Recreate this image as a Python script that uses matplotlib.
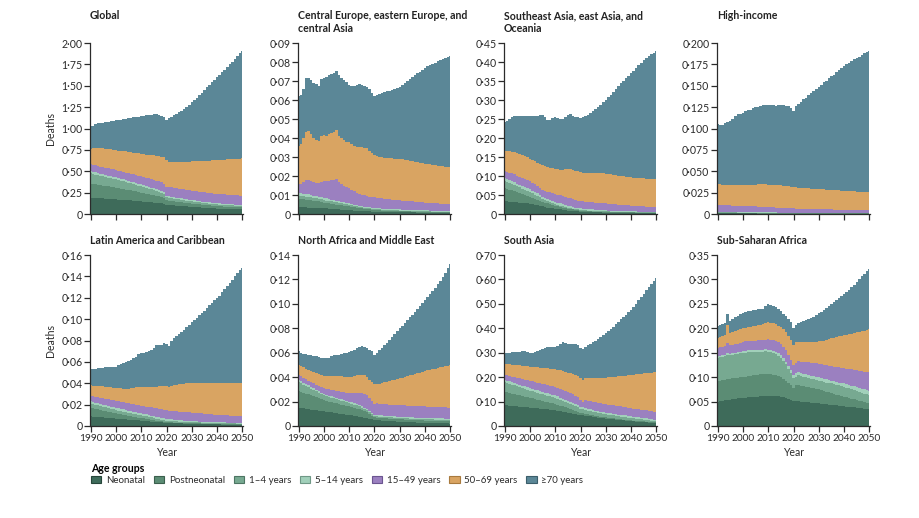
import matplotlib
matplotlib.use("Agg")
import matplotlib.pyplot as plt
from matplotlib.patches import Patch
from matplotlib.ticker import FuncFormatter

plt.rcParams['font.family'] = ['Lato', 'DejaVu Sans']

years = list(range(1990, 2051))
groups = ['Neonatal', 'Postneonatal', '1–4 years', '5–14 years', '15–49 years', '50–69 years', '≥70 years']
colors = ['#3e6b5a', '#5b8c74', '#77a991', '#a1d0ba', '#9b80c0', '#d9a462', '#5b8797']
edges = ['#26463a', '#3b5f4d', '#4d7563', '#6f9886', '#6b5590', '#a87a3e', '#3b5e6b']

# cumulative stack tops (neonatal, +postneonatal, ... , total), one value per year 1990-2050
global_tops = [
    [.190, .189, .188, .186, .184, .182, .180, .178, .176, .173, .170, .168, .166, .164, .162, .160, .158, .155, .152, .150,
     .147, .144, .141, .138, .135, .132, .129, .126, .123, .120, .110, .108, .105, .102, .099, .096, .093, .090, .088, .086,
     .084, .082, .080, .078, .076, .074, .072, .070, .068, .066, .064, .062, .061, .060, .059, .058, .057, .056, .055, .054, .053],
    [.355, .350, .346, .342, .338, .333, .328, .323, .318, .312, .305, .300, .295, .290, .285, .280, .275, .270, .264, .257,
     .250, .244, .238, .232, .226, .220, .213, .205, .196, .187, .160, .156, .152, .148, .144, .140, .136, .133, .130, .126,
     .122, .119, .116, .113, .110, .107, .104, .101, .098, .096, .093, .091, .089, .087, .085, .084, .082, .081, .080, .079, .078],
    [.475, .468, .461, .454, .447, .440, .433, .426, .419, .412, .405, .397, .389, .381, .373, .365, .357, .349, .341, .333,
     .325, .316, .307, .298, .289, .280, .270, .260, .247, .233, .196, .191, .186, .181, .176, .171, .166, .161, .157, .152,
     .148, .144, .140, .136, .132, .128, .124, .121, .118, .115, .112, .110, .108, .106, .104, .102, .100, .098, .096, .094, .093],
    [.501, .494, .487, .479, .472, .465, .458, .450, .443, .436, .429, .420, .412, .404, .396, .387, .379, .371, .363, .354,
     .346, .337, .328, .318, .309, .300, .290, .279, .266, .252, .213, .208, .203, .198, .192, .187, .182, .177, .173, .167,
     .163, .159, .155, .151, .146, .142, .138, .135, .132, .129, .125, .123, .121, .119, .117, .115, .112, .110, .108, .106, .105],
    [.581, .575, .568, .561, .554, .548, .541, .534, .527, .521, .514, .506, .499, .492, .485, .477, .470, .463, .456, .448,
     .441, .433, .425, .416, .408, .400, .391, .381, .369, .356, .321, .318, .313, .308, .302, .297, .292, .287, .283, .277,
     .273, .269, .265, .261, .256, .252, .248, .245, .242, .239, .235, .233, .231, .229, .227, .225, .222, .220, .218, .216, .215],
    [.760, .768, .772, .775, .773, .770, .765, .760, .755, .750, .745, .742, .739, .735, .731, .727, .723, .719, .714, .709,
     .700, .697, .694, .691, .688, .685, .681, .677, .672, .665, .630, .605, .607, .608, .609, .611, .612, .613, .614, .614,
     .615, .616, .618, .619, .621, .622, .624, .625, .627, .628, .630, .632, .634, .636, .638, .640, .642, .644, .646, .648, .650],
    [1.03, 1.03, 1.05, 1.06, 1.065, 1.07, 1.075, 1.08, 1.085, 1.09, 1.095, 1.10, 1.105, 1.11, 1.115, 1.12, 1.125, 1.13, 1.135, 1.14,
     1.145, 1.15, 1.155, 1.16, 1.16, 1.165, 1.165, 1.16, 1.15, 1.13, 1.10, 1.12, 1.14, 1.155, 1.17, 1.19, 1.21, 1.23, 1.255, 1.28,
     1.305, 1.33, 1.36, 1.39, 1.42, 1.45, 1.48, 1.51, 1.54, 1.57, 1.60, 1.63, 1.66, 1.69, 1.72, 1.75, 1.78, 1.81, 1.845, 1.88, 1.91],
]

ceeca_tops = [
    [.0035, .0035, .0035, .0035, .0034, .0033, .0032, .0031, .0031, .0030, .0030, .0029, .0028, .0027, .0026, .0025, .0024, .0023, .0022, .0021,
     .0020, .0019, .0018, .0017, .0016, .0015, .0015, .0014, .0014, .0013, .0012, .0012, .0011, .0011, .0011, .0010, .0010, .0010, .0009, .0009,
     .0009, .0009, .0008, .0008, .0008, .0008, .0008, .0007, .0007, .0007, .0007, .0007, .0007, .0007, .0006, .0006, .0006, .0006, .0006, .0006, .0006],
    [.0080, .0079, .0078, .0076, .0074, .0072, .0070, .0068, .0066, .0063, .0060, .0058, .0056, .0054, .0052, .0050, .0048, .0046, .0044, .0042,
     .0040, .0038, .0036, .0034, .0032, .0030, .0028, .0026, .0024, .0022, .0020, .0019, .0019, .0018, .0018, .0017, .0017, .0016, .0016, .0015,
     .0015, .0015, .0014, .0014, .0014, .0013, .0013, .0013, .0012, .0012, .0012, .0012, .0011, .0011, .0011, .0011, .0010, .0010, .0010, .0010, .0010],
    [.0095, .0094, .0093, .0091, .0089, .0087, .0085, .0082, .0080, .0077, .0074, .0071, .0069, .0066, .0064, .0061, .0059, .0056, .0054, .0051,
     .0049, .0046, .0044, .0041, .0039, .0036, .0034, .0032, .0030, .0028, .0025, .0024, .0024, .0023, .0022, .0021, .0021, .0020, .0020, .0019,
     .0018, .0018, .0017, .0017, .0016, .0016, .0016, .0015, .0015, .0014, .0014, .0014, .0014, .0013, .0013, .0013, .0013, .0012, .0012, .0012, .0012],
    [.0110, .0109, .0107, .0105, .0103, .0100, .0097, .0094, .0091, .0088, .0085, .0082, .0079, .0076, .0073, .0070, .0067, .0064, .0061, .0058,
     .0056, .0053, .0050, .0047, .0044, .0041, .0039, .0037, .0035, .0033, .0031, .0030, .0029, .0028, .0028, .0027, .0026, .0026, .0025, .0025,
     .0024, .0023, .0023, .0022, .0022, .0021, .0021, .0020, .0020, .0019, .0019, .0019, .0018, .0018, .0017, .0017, .0017, .0016, .0016, .0016, .0015],
    [.0160, .0160, .0170, .0180, .0180, .0175, .0170, .0165, .0165, .0170, .0175, .0175, .0175, .0178, .0180, .0182, .0170, .0160, .0150, .0140,
     .0135, .0127, .0120, .0113, .0107, .0102, .0098, .0095, .0092, .0090, .0088, .0086, .0084, .0082, .0080, .0079, .0077, .0076, .0074, .0073,
     .0072, .0071, .0070, .0068, .0067, .0066, .0065, .0064, .0062, .0061, .0060, .0059, .0058, .0058, .0057, .0056, .0055, .0055, .0054, .0054, .0053],
    [.0360, .0370, .0400, .0430, .0435, .0420, .0400, .0390, .0385, .0410, .0415, .0410, .0420, .0425, .0430, .0440, .0410, .0400, .0390, .0380,
     .0380, .0370, .0360, .0355, .0355, .0353, .0350, .0345, .0330, .0320, .0310, .0305, .0300, .0298, .0296, .0295, .0294, .0293, .0292, .0291,
     .0290, .0288, .0285, .0283, .0280, .0278, .0275, .0273, .0270, .0268, .0265, .0263, .0261, .0259, .0257, .0255, .0253, .0251, .0249, .0248, .0247],
    [.0620, .0625, .0660, .0715, .0718, .0705, .0690, .0682, .0675, .0710, .0715, .0720, .0730, .0735, .0742, .0755, .0730, .0715, .0705, .0697,
     .0680, .0675, .0675, .0680, .0683, .0680, .0675, .0670, .0660, .0635, .0620, .0625, .0630, .0635, .0640, .0645, .0650, .0655, .0660, .0665,
     .0670, .0680, .0690, .0700, .0710, .0720, .0730, .0740, .0750, .0760, .0770, .0777, .0784, .0790, .0797, .0805, .0810, .0815, .0820, .0825, .0830],
]

seao_tops = [
    [.033, .033, .032, .032, .031, .031, .030, .029, .028, .028, .027, .026, .024, .023, .021, .020, .018, .017, .016, .015,
     .014, .013, .012, .011, .010, .009, .009, .008, .007, .007, .006, .006, .005, .005, .005, .004, .004, .004, .004, .003,
     .003, .003, .003, .003, .003, .003, .003, .003, .003, .002, .002, .002, .002, .002, .002, .002, .002, .002, .002, .002, .002],
    [.068, .066, .064, .062, .060, .058, .055, .053, .050, .048, .045, .042, .040, .037, .035, .032, .030, .028, .026, .024,
     .022, .020, .019, .017, .016, .014, .013, .012, .011, .010, .008, .008, .007, .007, .007, .006, .006, .006, .005, .005,
     .005, .005, .005, .005, .004, .004, .004, .004, .004, .004, .004, .004, .003, .003, .003, .003, .003, .003, .003, .003, .003],
    [.088, .085, .082, .079, .076, .073, .070, .067, .064, .061, .058, .054, .051, .047, .044, .040, .037, .034, .031, .028,
     .026, .024, .022, .020, .019, .017, .016, .014, .013, .012, .011, .010, .010, .009, .009, .008, .008, .008, .007, .007,
     .007, .007, .006, .006, .006, .006, .006, .005, .005, .005, .005, .005, .005, .005, .005, .004, .004, .004, .004, .004, .004],
    [.095, .092, .089, .086, .083, .080, .077, .074, .071, .068, .065, .061, .058, .054, .050, .046, .043, .040, .037, .034,
     .032, .030, .028, .026, .024, .022, .020, .018, .017, .016, .015, .014, .013, .013, .012, .012, .011, .011, .010, .010,
     .010, .009, .009, .009, .008, .008, .008, .008, .007, .007, .007, .007, .007, .006, .006, .006, .006, .006, .006, .005, .005],
    [.113, .111, .109, .107, .104, .101, .098, .095, .092, .089, .086, .082, .078, .074, .069, .064, .061, .059, .057, .055,
     .053, .051, .049, .047, .045, .043, .041, .039, .037, .035, .034, .033, .032, .032, .031, .031, .030, .030, .029, .029,
     .028, .027, .027, .026, .026, .025, .025, .024, .024, .023, .022, .022, .021, .021, .020, .020, .019, .019, .018, .018, .018],
    [.167, .166, .165, .164, .162, .160, .158, .155, .152, .149, .146, .143, .139, .135, .131, .128, .126, .124, .122, .120,
     .119, .118, .117, .117, .118, .119, .118, .116, .114, .112, .110, .109, .109, .108, .108, .108, .108, .107, .107, .107,
     .106, .105, .104, .103, .102, .101, .100, .099, .098, .098, .097, .096, .095, .095, .094, .094, .093, .093, .092, .092, .091],
    [.243, .246, .250, .255, .258, .258, .257, .257, .257, .257, .257, .257, .257, .258, .260, .261, .255, .247, .248, .252,
     .255, .252, .250, .251, .255, .261, .262, .259, .256, .255, .252, .254, .257, .261, .265, .270, .276, .282, .288, .294,
     .300, .307, .314, .322, .329, .337, .344, .351, .357, .364, .370, .377, .384, .391, .398, .405, .410, .415, .420, .425, .430],
]

high_income_tops = [
    [.0008, .0008, .0008, .0008, .0008, .0007, .0007, .0007, .0007, .0007, .0006, .0006, .0006, .0006, .0006, .0006, .0005, .0005, .0005, .0005,
     .0005, .0005, .0005, .0005, .0004, .0004, .0004, .0004, .0004, .0004, .0004, .0004, .0004, .0004, .0004, .0004, .0004, .0004, .0004, .0004,
     .0004, .0004, .0004, .0004, .0004, .0003, .0003, .0003, .0003, .0003, .0003, .0003, .0003, .0003, .0003, .0003, .0003, .0003, .0003, .0003, .0003],
    [.0015, .0015, .0014, .0014, .0014, .0013, .0013, .0013, .0012, .0012, .0012, .0011, .0011, .0011, .0011, .0010, .0010, .0010, .0010, .0010,
     .0009, .0009, .0009, .0009, .0009, .0008, .0008, .0008, .0008, .0008, .0008, .0008, .0008, .0007, .0007, .0007, .0007, .0007, .0007, .0007,
     .0007, .0007, .0007, .0007, .0007, .0006, .0006, .0006, .0006, .0006, .0006, .0006, .0006, .0006, .0006, .0006, .0006, .0006, .0006, .0006, .0006],
    [.0020, .0020, .0019, .0019, .0019, .0018, .0018, .0018, .0017, .0017, .0017, .0016, .0016, .0016, .0015, .0014, .0014, .0014, .0014, .0014,
     .0013, .0013, .0013, .0013, .0012, .0011, .0011, .0011, .0011, .0011, .0011, .0010, .0010, .0009, .0009, .0009, .0009, .0009, .0009, .0009,
     .0009, .0009, .0009, .0009, .0009, .0008, .0008, .0008, .0008, .0008, .0008, .0008, .0008, .0008, .0008, .0008, .0008, .0008, .0008, .0008, .0008],
    [.0025, .0025, .0024, .0024, .0024, .0023, .0023, .0023, .0022, .0022, .0022, .0021, .0021, .0021, .0020, .0019, .0019, .0019, .0019, .0019,
     .0018, .0018, .0018, .0018, .0017, .0016, .0016, .0016, .0016, .0016, .0015, .0014, .0014, .0013, .0013, .0013, .0013, .0013, .0013, .0013,
     .0012, .0012, .0012, .0012, .0012, .0011, .0011, .0011, .0011, .0011, .0011, .0011, .0011, .0011, .0010, .0010, .0010, .0010, .0010, .0010, .0010],
    [.0105, .0104, .0103, .0102, .0101, .0100, .0099, .0098, .0097, .0096, .0095, .0094, .0092, .0091, .0089, .0088, .0086, .0085, .0083, .0082,
     .0080, .0079, .0077, .0076, .0074, .0073, .0071, .0070, .0068, .0067, .0065, .0064, .0063, .0062, .0061, .0060, .0059, .0058, .0057, .0056,
     .0055, .0055, .0054, .0054, .0053, .0053, .0052, .0052, .0051, .0051, .0050, .0050, .0050, .0050, .0050, .0050, .0050, .0050, .0050, .0050, .0050],
    [.0350, .0346, .0343, .0340, .0338, .0336, .0335, .0334, .0334, .0334, .0335, .0337, .0339, .0341, .0343, .0345, .0346, .0346, .0346, .0346,
     .0345, .0343, .0341, .0339, .0337, .0334, .0331, .0327, .0323, .0318, .0312, .0310, .0308, .0306, .0304, .0302, .0300, .0298, .0296, .0294,
     .0292, .0290, .0288, .0286, .0284, .0282, .0280, .0278, .0276, .0274, .0272, .0270, .0268, .0266, .0264, .0262, .0260, .0258, .0257, .0256, .0255],
    [.105, .104, .104, .106, .108, .109, .111, .115, .117, .117, .118, .120, .122, .122, .124, .125, .125, .126, .127, .127,
     .128, .128, .127, .126, .128, .127, .127, .126, .126, .124, .121, .126, .129, .131, .134, .136, .139, .141, .144, .146,
     .149, .151, .154, .156, .159, .161, .163, .166, .168, .171, .173, .175, .177, .179, .181, .182, .184, .186, .188, .190, .191],
]

latam_tops = [
    [.0090, .0088, .0086, .0084, .0082, .0080, .0078, .0076, .0074, .0072, .0070, .0068, .0066, .0064, .0062, .0060, .0058, .0056, .0054, .0052,
     .0050, .0048, .0046, .0044, .0042, .0040, .0038, .0036, .0034, .0032, .0030, .0029, .0028, .0027, .0026, .0025, .0024, .0023, .0022, .0021,
     .0020, .0020, .0019, .0019, .0018, .0018, .0017, .0017, .0016, .0016, .0015, .0015, .0014, .0014, .0013, .0013, .0012, .0012, .0011, .0011, .0010],
    [.0170, .0165, .0160, .0155, .0150, .0145, .0140, .0135, .0130, .0125, .0120, .0115, .0111, .0106, .0102, .0097, .0093, .0088, .0084, .0079,
     .0075, .0071, .0067, .0063, .0059, .0055, .0051, .0047, .0043, .0039, .0035, .0034, .0033, .0032, .0031, .0030, .0029, .0028, .0027, .0026,
     .0025, .0025, .0024, .0024, .0023, .0023, .0022, .0022, .0021, .0021, .0020, .0020, .0019, .0019, .0018, .0018, .0017, .0017, .0016, .0016, .0015],
    [.0210, .0204, .0198, .0192, .0186, .0180, .0174, .0168, .0162, .0156, .0150, .0145, .0140, .0135, .0130, .0125, .0120, .0115, .0110, .0105,
     .0100, .0095, .0090, .0085, .0080, .0075, .0070, .0065, .0060, .0055, .0050, .0048, .0047, .0045, .0044, .0042, .0041, .0039, .0038, .0036,
     .0035, .0034, .0034, .0033, .0032, .0031, .0031, .0030, .0029, .0029, .0028, .0027, .0027, .0026, .0026, .0025, .0024, .0024, .0023, .0023, .0022],
    [.0230, .0224, .0218, .0212, .0206, .0200, .0194, .0188, .0182, .0176, .0170, .0165, .0160, .0155, .0150, .0145, .0140, .0135, .0130, .0125,
     .0120, .0115, .0109, .0104, .0098, .0093, .0087, .0082, .0076, .0071, .0065, .0063, .0061, .0059, .0057, .0055, .0053, .0051, .0049, .0047,
     .0045, .0044, .0043, .0042, .0041, .0040, .0039, .0038, .0037, .0036, .0035, .0034, .0034, .0033, .0032, .0032, .0031, .0030, .0029, .0029, .0028],
    [.0285, .0280, .0275, .0270, .0265, .0260, .0255, .0250, .0245, .0240, .0235, .0230, .0226, .0221, .0217, .0212, .0208, .0203, .0199, .0194,
     .0190, .0186, .0182, .0178, .0174, .0170, .0166, .0162, .0158, .0154, .0150, .0140, .0139, .0138, .0136, .0135, .0133, .0131, .0129, .0127,
     .0125, .0123, .0121, .0119, .0117, .0115, .0113, .0111, .0109, .0107, .0105, .0104, .0102, .0101, .0099, .0098, .0096, .0095, .0093, .0092, .0090],
    [.0380, .0378, .0376, .0374, .0372, .0370, .0368, .0366, .0363, .0360, .0355, .0353, .0351, .0350, .0348, .0350, .0355, .0360, .0365, .0368,
     .0368, .0366, .0365, .0363, .0362, .0364, .0368, .0372, .0374, .0372, .0370, .0367, .0375, .0382, .0388, .0392, .0395, .0397, .0398, .0399,
     .0400, .0400, .0400, .0400, .0400, .0400, .0400, .0400, .0400, .0400, .0400, .0400, .0400, .0400, .0400, .0400, .0400, .0400, .0400, .0400, .0400],
    [.0530, .0530, .0535, .0540, .0540, .0545, .0550, .0555, .0555, .0555, .0555, .0570, .0580, .0590, .0600, .0610, .0620, .0635, .0650, .0670,
     .0680, .0685, .0690, .0700, .0710, .0730, .0760, .0755, .0760, .0780, .0765, .0750, .0800, .0820, .0840, .0860, .0880, .0900, .0925, .0947,
     .0970, .0990, .1015, .1040, .1060, .1080, .1105, .1130, .1150, .1175, .1195, .1220, .1250, .1280, .1310, .1340, .1370, .1400, .1430, .1455, .1480],
]

namme_tops = [
    [.0150, .0147, .0144, .0141, .0138, .0135, .0132, .0129, .0126, .0123, .0120, .0117, .0114, .0111, .0108, .0105, .0102, .0099, .0096, .0093,
     .0090, .0087, .0084, .0080, .0077, .0073, .0069, .0065, .0060, .0055, .0050, .0048, .0047, .0045, .0044, .0042, .0041, .0039, .0038, .0036,
     .0035, .0034, .0033, .0032, .0031, .0030, .0029, .0028, .0027, .0026, .0025, .0025, .0024, .0024, .0023, .0023, .0022, .0022, .0021, .0021, .0020],
    [.0290, .0282, .0274, .0266, .0258, .0250, .0242, .0234, .0226, .0218, .0210, .0205, .0200, .0195, .0190, .0185, .0180, .0175, .0170, .0165,
     .0160, .0154, .0148, .0142, .0136, .0130, .0122, .0113, .0100, .0085, .0070, .0068, .0067, .0065, .0064, .0062, .0061, .0059, .0058, .0056,
     .0055, .0054, .0053, .0052, .0051, .0050, .0049, .0048, .0047, .0046, .0045, .0045, .0044, .0044, .0043, .0043, .0042, .0042, .0041, .0041, .0040],
    [.0360, .0349, .0338, .0327, .0316, .0305, .0294, .0283, .0272, .0261, .0250, .0244, .0238, .0232, .0226, .0220, .0214, .0208, .0202, .0196,
     .0190, .0183, .0176, .0168, .0160, .0150, .0140, .0128, .0114, .0098, .0080, .0079, .0077, .0076, .0074, .0073, .0071, .0070, .0068, .0067,
     .0065, .0064, .0063, .0062, .0061, .0060, .0059, .0058, .0057, .0056, .0055, .0055, .0054, .0054, .0053, .0053, .0052, .0052, .0051, .0051, .0050],
    [.0380, .0368, .0356, .0344, .0332, .0320, .0308, .0296, .0284, .0272, .0260, .0254, .0248, .0242, .0236, .0230, .0224, .0218, .0212, .0206,
     .0200, .0193, .0186, .0178, .0170, .0160, .0150, .0138, .0124, .0108, .0090, .0089, .0087, .0086, .0084, .0083, .0081, .0080, .0078, .0077,
     .0075, .0074, .0073, .0072, .0071, .0070, .0069, .0068, .0067, .0066, .0065, .0065, .0064, .0064, .0063, .0063, .0062, .0062, .0061, .0061, .0060],
    [.0420, .0408, .0396, .0384, .0372, .0360, .0348, .0336, .0324, .0317, .0310, .0306, .0302, .0298, .0294, .0290, .0286, .0282, .0278, .0274,
     .0270, .0268, .0267, .0267, .0268, .0267, .0262, .0250, .0230, .0205, .0180, .0185, .0183, .0181, .0179, .0177, .0175, .0174, .0172, .0171,
     .0170, .0169, .0168, .0167, .0166, .0165, .0164, .0163, .0162, .0161, .0160, .0159, .0158, .0157, .0156, .0155, .0154, .0153, .0152, .0151, .0150],
    [.0500, .0490, .0480, .0470, .0460, .0450, .0442, .0434, .0426, .0418, .0410, .0410, .0410, .0410, .0410, .0410, .0408, .0406, .0404, .0402,
     .0400, .0405, .0410, .0415, .0420, .0420, .0415, .0400, .0380, .0360, .0345, .0340, .0345, .0352, .0358, .0364, .0370, .0375, .0380, .0385,
     .0390, .0396, .0402, .0408, .0414, .0420, .0426, .0432, .0438, .0444, .0450, .0455, .0460, .0465, .0470, .0475, .0480, .0485, .0490, .0495, .0500],
    [.0610, .0600, .0590, .0590, .0580, .0580, .0575, .0570, .0565, .0560, .0555, .0555, .0560, .0570, .0580, .0580, .0585, .0590, .0595, .0600,
     .0605, .0610, .0625, .0640, .0650, .0655, .0650, .0640, .0620, .0610, .0580, .0600, .0620, .0640, .0660, .0680, .0705, .0730, .0750, .0775,
     .0800, .0820, .0840, .0865, .0890, .0910, .0935, .0960, .0980, .1005, .1030, .1055, .1080, .1105, .1130, .1160, .1190, .1220, .1255, .1290, .1330],
]

south_asia_tops = [
    [.085, .084, .083, .082, .081, .080, .079, .078, .077, .076, .075, .074, .073, .072, .071, .070, .069, .068, .067, .066,
     .065, .063, .061, .059, .057, .055, .053, .051, .049, .047, .045, .043, .042, .040, .039, .037, .036, .034, .033, .031,
     .030, .029, .028, .027, .026, .025, .024, .023, .022, .021, .020, .019, .018, .018, .017, .016, .015, .014, .014, .013, .012],
    [.140, .138, .135, .133, .130, .128, .125, .123, .120, .118, .115, .113, .110, .108, .105, .103, .100, .098, .095, .093,
     .090, .087, .083, .080, .076, .073, .069, .066, .062, .059, .055, .052, .050, .048, .046, .044, .042, .040, .038, .037,
     .035, .034, .032, .031, .030, .029, .028, .026, .025, .024, .023, .022, .021, .021, .020, .019, .018, .017, .016, .016, .015],
    [.180, .176, .173, .169, .166, .162, .159, .155, .152, .148, .145, .142, .139, .136, .133, .130, .127, .124, .121, .118,
     .115, .111, .107, .102, .098, .094, .089, .085, .080, .076, .070, .068, .066, .063, .061, .059, .056, .054, .052, .050,
     .048, .046, .045, .043, .041, .040, .038, .036, .035, .033, .032, .031, .030, .028, .027, .026, .025, .024, .022, .021, .020],
    [.190, .186, .183, .179, .176, .172, .169, .165, .162, .158, .155, .152, .149, .146, .143, .140, .137, .134, .131, .128,
     .125, .121, .116, .112, .107, .103, .098, .094, .089, .085, .078, .076, .073, .071, .068, .066, .063, .061, .058, .056,
     .055, .053, .052, .050, .049, .047, .046, .044, .043, .041, .040, .038, .037, .035, .034, .032, .031, .029, .028, .026, .025],
    [.210, .207, .205, .202, .200, .197, .195, .192, .190, .187, .185, .183, .180, .178, .175, .173, .170, .168, .165, .163,
     .160, .156, .152, .148, .144, .140, .135, .130, .124, .118, .108, .100, .105, .103, .101, .099, .097, .095, .093, .092,
     .090, .088, .087, .085, .083, .081, .080, .078, .076, .075, .073, .071, .070, .068, .067, .065, .064, .062, .061, .059, .058],
    [.255, .254, .253, .251, .250, .249, .248, .247, .246, .244, .243, .242, .241, .240, .239, .238, .237, .236, .235, .234,
     .233, .231, .228, .225, .222, .219, .216, .213, .210, .205, .198, .188, .195, .195, .196, .196, .196, .197, .197, .197,
     .198, .199, .200, .201, .202, .203, .204, .205, .206, .207, .209, .210, .211, .213, .214, .215, .216, .218, .219, .220, .222],
    [.300, .300, .300, .301, .302, .302, .303, .305, .305, .303, .298, .300, .304, .308, .312, .316, .320, .325, .325, .322,
     .325, .328, .335, .342, .340, .337, .336, .337, .335, .332, .320, .315, .322, .330, .336, .343, .350, .357, .365, .372,
     .380, .389, .398, .407, .417, .427, .436, .446, .456, .465, .475, .488, .501, .514, .528, .542, .555, .568, .580, .592, .605],
]

ssa_tops = [
    [.050, .051, .052, .053, .054, .054, .055, .056, .057, .057, .058, .058, .059, .059, .060, .060, .060, .061, .061, .062,
     .062, .062, .062, .061, .061, .060, .059, .058, .056, .054, .052, .051, .051, .050, .050, .049, .049, .048, .048, .047,
     .047, .046, .045, .045, .044, .043, .043, .042, .041, .041, .040, .039, .039, .038, .038, .037, .036, .036, .035, .035, .034],
    [.092, .093, .094, .095, .096, .097, .098, .099, .099, .100, .100, .101, .102, .103, .104, .105, .105, .106, .106, .107,
     .107, .106, .105, .104, .102, .100, .097, .093, .088, .083, .078, .083, .084, .082, .081, .080, .079, .078, .077, .076,
     .075, .073, .072, .070, .069, .067, .066, .064, .063, .061, .060, .059, .057, .056, .055, .054, .052, .051, .049, .048, .047],
    [.140, .141, .142, .143, .146, .145, .146, .147, .148, .149, .150, .150, .151, .151, .151, .152, .152, .152, .152, .153,
     .152, .151, .150, .147, .144, .140, .134, .126, .117, .108, .098, .101, .104, .103, .101, .100, .099, .097, .096, .094,
     .093, .092, .090, .089, .088, .087, .085, .084, .083, .081, .080, .078, .077, .075, .073, .072, .070, .068, .066, .065, .064],
    [.143, .144, .145, .146, .149, .148, .149, .150, .151, .152, .153, .154, .155, .155, .155, .156, .156, .156, .156, .157,
     .156, .155, .154, .152, .149, .145, .139, .131, .122, .114, .105, .108, .110, .109, .107, .106, .105, .103, .102, .101,
     .100, .099, .097, .096, .095, .093, .092, .091, .089, .088, .087, .085, .084, .082, .081, .079, .078, .076, .075, .073, .072],
    [.160, .161, .162, .163, .170, .165, .166, .167, .168, .170, .172, .173, .174, .174, .175, .175, .176, .176, .177, .177,
     .178, .177, .176, .174, .171, .168, .162, .155, .146, .136, .125, .128, .133, .132, .131, .131, .130, .129, .128, .128,
     .127, .126, .125, .124, .123, .122, .121, .121, .120, .119, .118, .117, .116, .116, .115, .114, .113, .112, .111, .111, .110],
    [.180, .182, .184, .186, .206, .190, .193, .195, .197, .199, .200, .201, .202, .203, .204, .205, .206, .207, .208, .210,
     .212, .211, .210, .208, .205, .203, .198, .192, .185, .176, .166, .171, .171, .171, .171, .171, .172, .172, .172, .172,
     .173, .174, .175, .177, .178, .180, .181, .183, .184, .185, .186, .187, .188, .189, .190, .192, .193, .194, .195, .197, .198],
    [.205, .207, .208, .210, .229, .215, .219, .223, .226, .229, .231, .233, .235, .236, .237, .238, .239, .240, .240, .245,
     .250, .248, .246, .243, .240, .235, .230, .225, .220, .212, .200, .207, .210, .212, .214, .216, .218, .221, .224, .227,
     .231, .234, .238, .242, .246, .250, .254, .258, .262, .266, .270, .274, .279, .284, .289, .295, .300, .306, .312, .317, .322],
]

titles = ['Global', 'Central Europe, eastern Europe, and\ncentral Asia', 'Southeast Asia, east Asia, and\nOceania', 'High-income',
          'Latin America and Caribbean', 'North Africa and Middle East', 'South Asia', 'Sub-Saharan Africa']
panel_tops = [global_tops, ceeca_tops, seao_tops, high_income_tops, latam_tops, namme_tops, south_asia_tops, ssa_tops]
y_max = [2.0, 0.09, 0.45, 0.2, 0.16, 0.14, 0.70, 0.35]
y_step = [0.25, 0.01, 0.05, 0.025, 0.02, 0.02, 0.10, 0.05]
y_dec = [2, 2, 2, 3, 2, 2, 2, 2]

FS = 7.6
LEG_FS = 7.0
INK = '#2b2b2b'


def dot_fmt(dec):
    def f(v, pos):
        if abs(v) < 1e-12:
            return '0'
        return f'{v:.{dec}f}'.replace('.', '·')
    return FuncFormatter(f)


fig = plt.figure(figsize=(9.2, 5.18), dpi=100)
lefts = [90, 298, 504, 717]
W = 920.0
H = 518.0
for k in range(8):
    row, col = divmod(k, 4)
    bottom_px = 214 if row == 0 else 426
    ax = fig.add_axes([lefts[col] / W, 1 - bottom_px / H, 153 / W, 171 / H])
    tops = panel_tops[k]
    # draw from the top layer down so the layers sit flush
    for i in range(6, -1, -1):
        ax.fill_between(years, 0, tops[i], step='mid', color=colors[i], lw=0)
    ax.set_xlim(1989.8, 2050.2)
    ax.set_ylim(0, y_max[k])
    n = int(round(y_max[k] / y_step[k]))
    ax.set_yticks([y_step[k] * j for j in range(n + 1)])
    ax.yaxis.set_major_formatter(dot_fmt(y_dec[k]))
    ax.set_xticks(range(1990, 2051, 10))
    for s in ['top', 'right']:
        ax.spines[s].set_visible(False)
    for s in ['left', 'bottom']:
        ax.spines[s].set_color(INK)
        ax.spines[s].set_linewidth(0.9)
    ax.tick_params(direction='out', length=4, width=0.9, color=INK, labelsize=FS, labelcolor=INK, pad=1.5)
    ax.tick_params(axis='x', labelsize=7.3)
    if row == 0:
        ax.tick_params(axis='x', labelbottom=False)
    else:
        ax.set_xlabel('Year', fontsize=FS, color=INK, labelpad=3)
    if col == 0:
        ax.set_ylabel('Deaths', fontsize=FS, color=INK, labelpad=4)
    title_top = 10 if row == 0 else 235
    fig.text(lefts[col] / W, 1 - title_top / H, titles[k], ha='left', va='top',
             fontsize=FS, fontweight='bold', color='#222222', linespacing=1.25)

handles = [Patch(facecolor=c, edgecolor=e, linewidth=0.8) for c, e in zip(colors, edges)]
leg = fig.legend(handles, groups, loc='upper left', bbox_to_anchor=(84 / W, 1 - 456 / H), ncol=7,
                 frameon=False, fontsize=LEG_FS, title='Age groups',
                 title_fontproperties={'weight': 'bold', 'size': FS}, alignment='left',
                 handlelength=1.1, handleheight=0.8, handletextpad=0.45, columnspacing=0.9,
                 borderpad=0.2, labelspacing=0.2)
for t in leg.get_texts():
    t.set_color(INK)

fig.savefig('out.png', dpi=100)
